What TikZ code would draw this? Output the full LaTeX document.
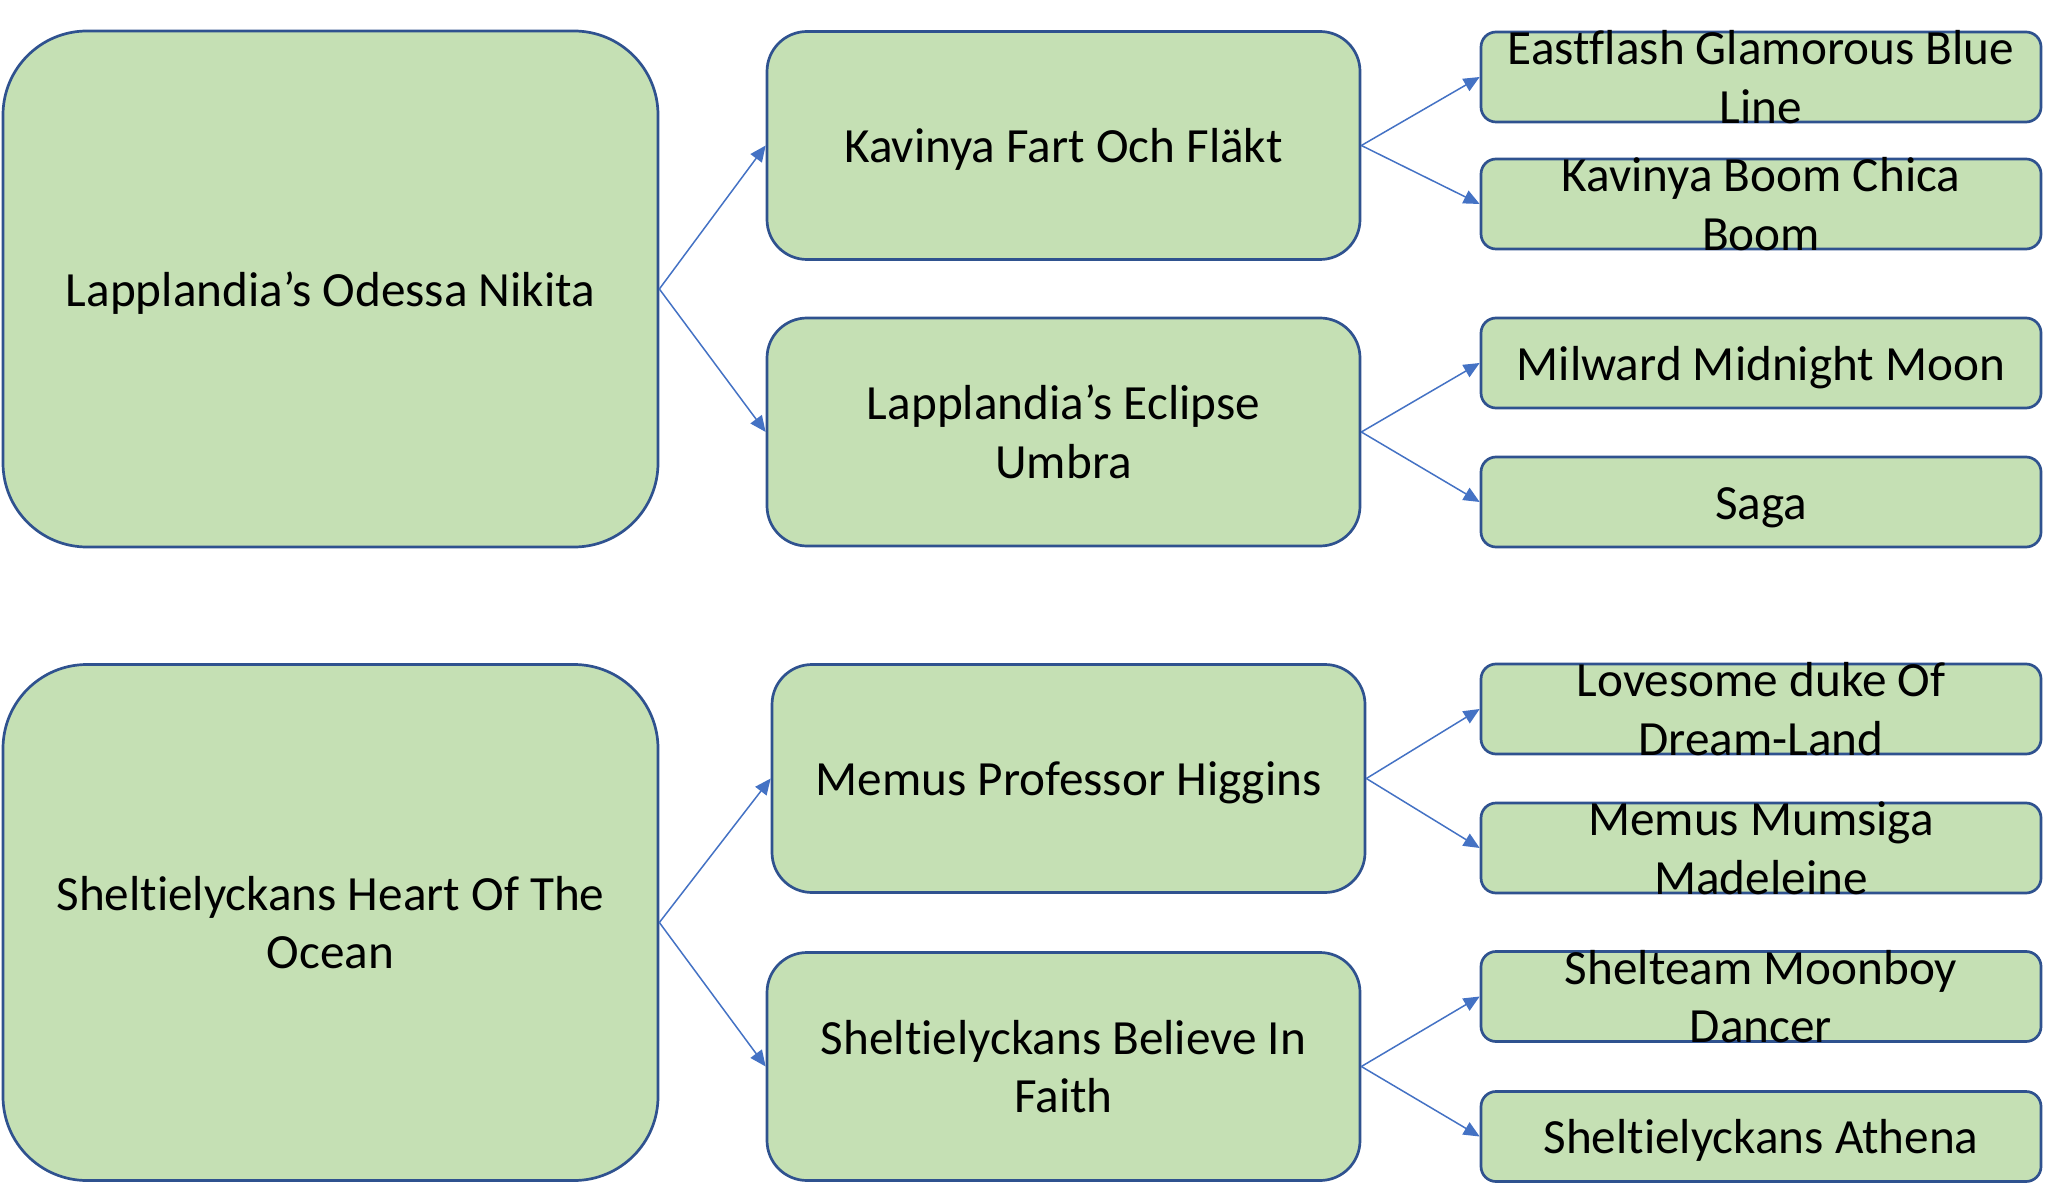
\documentclass[tikz,border=0pt]{standalone}
\usepackage{fontspec}
\setmainfont[RawFeature={-liga}]{Carlito}
\usetikzlibrary{arrows.meta}
\definecolor{boxfill}{HTML}{C5E0B4}
\definecolor{boxline}{HTML}{2F528F}
\definecolor{arrowc}{HTML}{4472C4}
\begin{document}
\begin{tikzpicture}[x=0.5pt,y=-0.5pt,
  basebox/.style={draw=boxline, fill=boxfill, line width=1.35pt, inner sep=0pt,
    align=center, font=\fontsize{24.6}{29.3}\selectfont},
  rootbox/.style={basebox, rounded corners=42pt, minimum width=327.5pt, minimum height=258pt},
  childbox/.style={basebox, rounded corners=20pt, minimum width=296.5pt, minimum height=114pt},
  grandbox/.style={basebox, rounded corners=7.5pt, minimum width=280pt, minimum height=45pt},
  gtext/.style={inner sep=0pt, align=center, font=\fontsize{24.6}{29.3}\selectfont},
  oneline/.style={text height=19.2pt, text depth=2pt},
  conn/.style={draw=arrowc, line width=0.75pt, -{Triangle[length=8pt,width=7pt]}}]
\useasboundingbox (0,0) rectangle (2048,1197);

% roots
\node[rootbox, oneline] (r1) at (330.5,289) {Lapplandia’s Odessa Nikita};
\node[rootbox] (r2) at (330.5,922.5) {Sheltielyckans Heart Of The\\Ocean};

% children
\node[childbox, oneline] (c1) at (1063.5,145.5) {Kavinya Fart Och Fläkt};
\node[childbox] (c2) at (1063.5,432) {Lapplandia’s Eclipse\\Umbra};
\node[childbox, oneline] (c3) at (1068.5,778.5) {Memus Professor Higgins};
\node[childbox] (c4) at (1063.5,1066.5) {Sheltielyckans Believe In\\Faith};

% grandchildren
\node[grandbox] (g1) at (1761,77) {};
\node[grandbox] (g2) at (1761,204) {};
\node[grandbox] (g3) at (1761,363) {};
\node[grandbox] (g4) at (1761,502) {};
\node[grandbox] (g5) at (1761,709) {};
\node[grandbox] (g6) at (1761,848) {};
\node[grandbox] (g7) at (1761,996.5) {};
\node[grandbox] (g8) at (1761,1136.5) {};

\node[gtext] (g1t) at (g1.center) {Eastflash Glamorous Blue\\Line};
\node[gtext] (g2t) at (g2.center) {Kavinya Boom Chica\\Boom};
\node[gtext, oneline] (g3t) at (g3.center) {Milward Midnight Moon};
\node[gtext, oneline] (g4t) at (g4.center) {Saga};
\node[gtext] (g5t) at (g5.center) {Lovesome duke Of\\Dream-Land};
\node[gtext] (g6t) at (g6.center) {Memus Mumsiga\\Madeleine};
\node[gtext] (g7t) at (g7.center) {Shelteam Moonboy\\Dancer};
\node[gtext, oneline] (g8t) at (g8.center) {Sheltielyckans Athena};

% connectors
\draw[conn] (r1.east) -- (c1.west);
\draw[conn] (r1.east) -- (c2.west);
\draw[conn] (r2.east) -- (c3.west);
\draw[conn] (r2.east) -- (c4.west);
\draw[conn] (c1.east) -- (g1.west);
\draw[conn] (c1.east) -- (g2.west);
\draw[conn] (c2.east) -- (g3.west);
\draw[conn] (c2.east) -- (g4.west);
\draw[conn] (c3.east) -- (g5.west);
\draw[conn] (c3.east) -- (g6.west);
\draw[conn] (c4.east) -- (g7.west);
\draw[conn] (c4.east) -- (g8.west);
\end{tikzpicture}
\end{document}
